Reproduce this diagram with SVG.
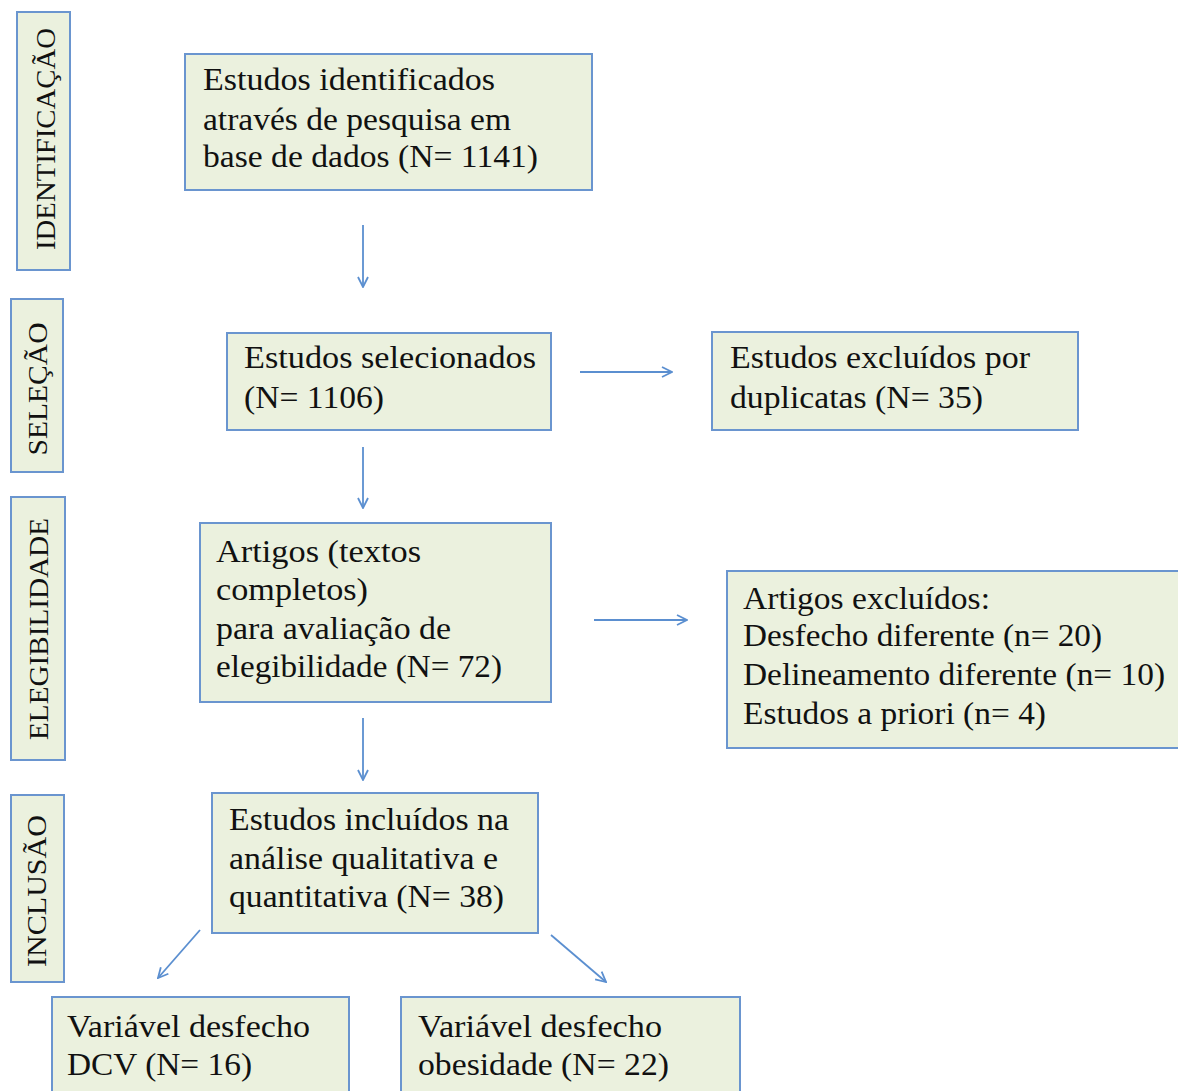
<svg xmlns="http://www.w3.org/2000/svg" width="1178" height="1091" viewBox="0 0 1178 1091">
<style>
.box{fill:#ebf1de;stroke:#6a95cf;stroke-width:2}
.t{font-family:"Liberation Serif","Times New Roman",serif;font-size:31px;fill:#111}
.s{font-family:"Liberation Serif","Times New Roman",serif;font-size:27px;fill:#111;text-anchor:middle}
.c{stroke:#5b8fd0;stroke-width:1.8;fill:none}
</style>
<defs>
<marker id="ah" viewBox="0 0 12 12" refX="11" refY="6" markerWidth="12" markerHeight="12" markerUnits="userSpaceOnUse" orient="auto">
<path d="M1,1 L11,6 L1,11" fill="none" stroke="#5b8fd0" stroke-width="1.8"/>
</marker>
</defs>
<rect width="1178" height="1091" fill="#fff"/>
<g id="side-identificacao"><rect class="box" x="17" y="12" width="53" height="258"/><text class="s" transform="translate(55,139) rotate(-90)" textLength="222" lengthAdjust="spacingAndGlyphs">IDENTIFICAÇÃO</text></g>
<g id="side-selecao"><rect class="box" x="11" y="299" width="52" height="173"/><text class="s" transform="translate(47,389) rotate(-90)" textLength="133" lengthAdjust="spacingAndGlyphs">SELEÇÃO</text></g>
<g id="side-elegibilidade"><rect class="box" x="11" y="497" width="54" height="263"/><text class="s" transform="translate(48,629) rotate(-90)" textLength="222" lengthAdjust="spacingAndGlyphs">ELEGIBILIDADE</text></g>
<g id="side-inclusao"><rect class="box" x="11" y="795" width="53" height="187"/><text class="s" transform="translate(46,891) rotate(-90)" textLength="152" lengthAdjust="spacingAndGlyphs">INCLUSÃO</text></g>
<g id="n1"><rect class="box" x="185" y="54" width="407" height="136"/><text class="t" x="203" y="90" textLength="292" lengthAdjust="spacingAndGlyphs">Estudos identificados</text><text class="t" x="203" y="130" textLength="308" lengthAdjust="spacingAndGlyphs">através de pesquisa em</text><text class="t" x="203" y="167" textLength="335" lengthAdjust="spacingAndGlyphs">base de dados (N= 1141)</text></g>
<g id="n2"><rect class="box" x="227" y="333" width="324" height="97"/><text class="t" x="244" y="368" textLength="292" lengthAdjust="spacingAndGlyphs">Estudos selecionados</text><text class="t" x="244" y="408" textLength="140" lengthAdjust="spacingAndGlyphs">(N= 1106)</text></g>
<g id="n3"><rect class="box" x="712" y="332" width="366" height="98"/><text class="t" x="730" y="368" textLength="300" lengthAdjust="spacingAndGlyphs">Estudos excluídos por</text><text class="t" x="730" y="408" textLength="253" lengthAdjust="spacingAndGlyphs">duplicatas (N= 35)</text></g>
<g id="n4"><rect class="box" x="200" y="523" width="351" height="179"/><text class="t" x="216" y="562" textLength="205" lengthAdjust="spacingAndGlyphs">Artigos (textos</text><text class="t" x="216" y="600" textLength="152" lengthAdjust="spacingAndGlyphs">completos)</text><text class="t" x="216" y="639" textLength="235" lengthAdjust="spacingAndGlyphs">para avaliação de</text><text class="t" x="216" y="677" textLength="286" lengthAdjust="spacingAndGlyphs">elegibilidade (N= 72)</text></g>
<g id="n5"><rect class="box" x="727" y="571" width="460" height="177"/><text class="t" x="743" y="609" textLength="247" lengthAdjust="spacingAndGlyphs">Artigos excluídos:</text><text class="t" x="743" y="646" textLength="359" lengthAdjust="spacingAndGlyphs">Desfecho diferente (n= 20)</text><text class="t" x="743" y="685" textLength="422" lengthAdjust="spacingAndGlyphs">Delineamento diferente (n= 10)</text><text class="t" x="743" y="724" textLength="303" lengthAdjust="spacingAndGlyphs">Estudos a priori (n= 4)</text></g>
<g id="n6"><rect class="box" x="212" y="793" width="326" height="140"/><text class="t" x="229" y="830" textLength="280" lengthAdjust="spacingAndGlyphs">Estudos incluídos na</text><text class="t" x="229" y="869" textLength="269" lengthAdjust="spacingAndGlyphs">análise qualitativa e</text><text class="t" x="229" y="907" textLength="275" lengthAdjust="spacingAndGlyphs">quantitativa (N= 38)</text></g>
<g id="n7"><rect class="box" x="52" y="997" width="297" height="110"/><text class="t" x="67" y="1037" textLength="243" lengthAdjust="spacingAndGlyphs">Variável desfecho</text><text class="t" x="67" y="1075" textLength="185" lengthAdjust="spacingAndGlyphs">DCV (N= 16)</text></g>
<g id="n8"><rect class="box" x="401" y="997" width="339" height="110"/><text class="t" x="418" y="1037" textLength="244" lengthAdjust="spacingAndGlyphs">Variável desfecho</text><text class="t" x="418" y="1075" textLength="251" lengthAdjust="spacingAndGlyphs">obesidade (N= 22)</text></g>
<g id="connectors">
<line class="c" x1="363" y1="225" x2="363" y2="287" marker-end="url(#ah)"/>
<line class="c" x1="580" y1="372" x2="672" y2="372" marker-end="url(#ah)"/>
<line class="c" x1="363" y1="447" x2="363" y2="508" marker-end="url(#ah)"/>
<line class="c" x1="594" y1="620" x2="687" y2="620" marker-end="url(#ah)"/>
<line class="c" x1="363" y1="718" x2="363" y2="780" marker-end="url(#ah)"/>
<line class="c" x1="200" y1="930" x2="158" y2="978" marker-end="url(#ah)"/>
<line class="c" x1="551" y1="935" x2="606" y2="982" marker-end="url(#ah)"/>
</g>
</svg>
